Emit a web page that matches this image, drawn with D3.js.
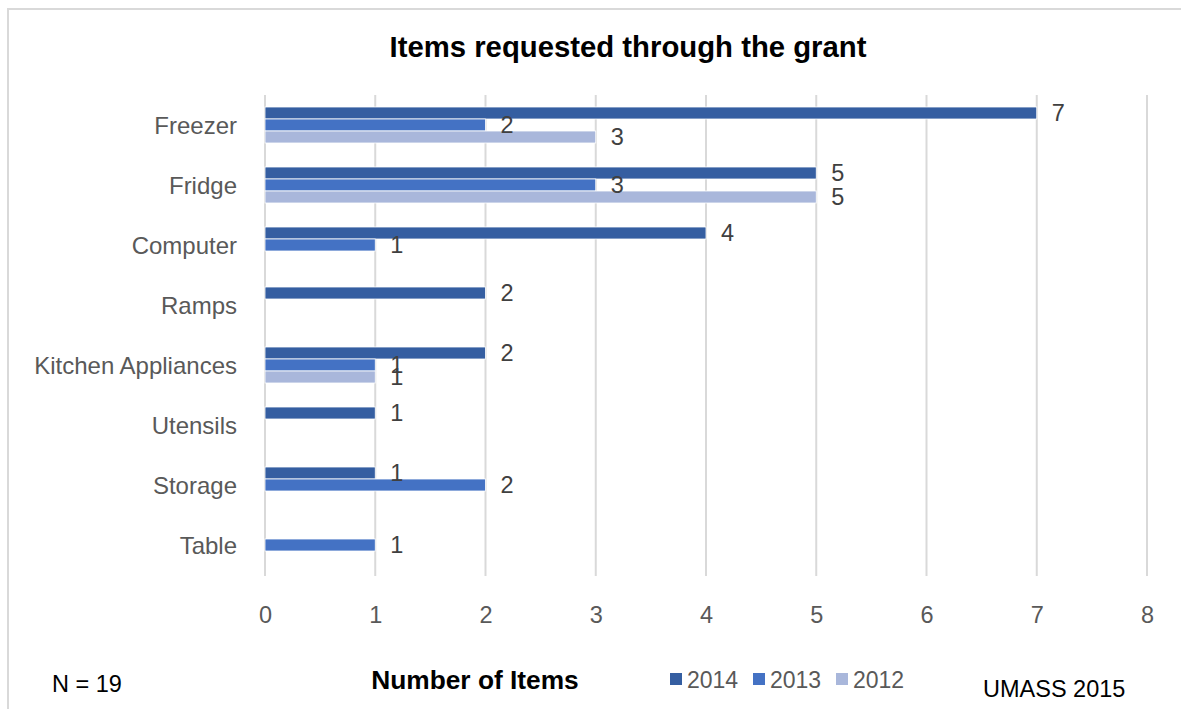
<!DOCTYPE html>
<html>
<head>
<meta charset="utf-8">
<script src="https://cdn.jsdelivr.net/npm/d3@7/dist/d3.min.js"></script>
<style>
  html, body { margin: 0; padding: 0; background: #fff; }
  svg { display: block; font-family: "Liberation Sans", Arial, sans-serif; }
</style>
</head>
<body>
<svg id="chart" width="1181" height="709"></svg>
<script>
// Items requested per category, by grant year (null = none requested)
const categories = ["Freezer", "Fridge", "Computer", "Ramps", "Kitchen Appliances", "Utensils", "Storage", "Table"];
const years = ["2014", "2013", "2012"];
const values2014 = [7, 5, 4, 2, 2, 1, 1, null];
const values2013 = [2, 3, 1, null, 1, null, 2, 1];
const values2012 = [3, 5, null, null, 1, null, null, null];
const xTicks = [0, 1, 2, 3, 4, 5, 6, 7, 8];
const colors = ["#355ea1", "#4472c4", "#a9b7db"];

const seriesValues = [values2014, values2013, values2012];

const svg = d3.select("#chart");

// Outer frame (top and left edges visible)
svg.append("path")
  .attr("d", "M8,709 L8,9 L1181,9")
  .attr("fill", "none")
  .attr("stroke", "#d9d9d9")
  .attr("stroke-width", 2);

const plot = { left: 265, right: 1147, top: 95, bottom: 575 };

const x = d3.scaleLinear().domain([0, 8]).range([plot.left, plot.right]);
const y = d3.scaleBand().domain(categories).range([plot.top, plot.bottom]).paddingInner(0).paddingOuter(0);
const inner = d3.scaleBand().domain(years).range([0, y.bandwidth()]).paddingInner(0).paddingOuter(1);

// Vertical gridlines
svg.append("g")
  .selectAll("line")
  .data(xTicks)
  .join("line")
  .attr("x1", d => x(d)).attr("x2", d => x(d))
  .attr("y1", plot.top).attr("y2", plot.bottom + 1)
  .attr("stroke", "#d9d9d9")
  .attr("stroke-width", 2);

// Bars
const rows = [];
categories.forEach((c, i) => {
  years.forEach((yr, j) => {
    const v = seriesValues[j][i];
    if (v != null) rows.push({ cat: c, year: yr, value: v, color: colors[j] });
  });
});

svg.append("g")
  .selectAll("rect")
  .data(rows)
  .join("rect")
  .attr("x", x(0))
  .attr("y", d => y(d.cat) + inner(d.year))
  .attr("width", d => x(d.value) - x(0))
  .attr("height", inner.bandwidth())
  .attr("fill", d => d.color)
  .attr("stroke", "#ffffff")
  .attr("stroke-width", 0.8);

// Value labels
svg.append("g")
  .selectAll("text")
  .data(rows)
  .join("text")
  .attr("x", d => x(d.value) + 15)
  .attr("y", d => y(d.cat) + inner(d.year) + inner.bandwidth() / 2)
  .attr("dy", "0.36em")
  .attr("font-size", 23.5)
  .attr("fill", "#404040")
  .text(d => d.value);

// Category axis labels
svg.append("g")
  .selectAll("text")
  .data(categories)
  .join("text")
  .attr("x", 237)
  .attr("y", d => y(d) + y.bandwidth() / 2)
  .attr("dy", "0.36em")
  .attr("text-anchor", "end")
  .attr("font-size", 24)
  .attr("fill", "#595959")
  .text(d => d);

// Value axis tick labels
const xAxis = d3.axisBottom(x).tickValues(xTicks).tickSize(0).tickPadding(0).tickFormat(d3.format("d"));
const gx = svg.append("g").attr("transform", `translate(0, ${606})`).call(xAxis);
gx.select(".domain").remove();
gx.selectAll("text")
  .attr("font-family", "Liberation Sans, Arial, sans-serif")
  .attr("font-size", 23.5)
  .attr("fill", "#595959");

// Title
svg.append("text")
  .attr("x", 628).attr("y", 57)
  .attr("text-anchor", "middle")
  .attr("font-size", 29.3)
  .attr("font-weight", "bold")
  .attr("fill", "#000")
  .text("Items requested through the grant");

// Axis title
svg.append("text")
  .attr("x", 475).attr("y", 689)
  .attr("text-anchor", "middle")
  .attr("font-size", 26.3)
  .attr("font-weight", "bold")
  .attr("fill", "#000")
  .text("Number of Items");

// Sample size note
svg.append("text")
  .attr("x", 52).attr("y", 692)
  .attr("font-size", 23.5)
  .attr("fill", "#000")
  .text("N = 19");

// Source note
svg.append("text")
  .attr("x", 983).attr("y", 697)
  .attr("font-size", 23.5)
  .attr("fill", "#000")
  .text("UMASS 2015");

// Legend
const legendX = [670, 753, 836];
const legend = svg.append("g")
  .selectAll("g")
  .data(years)
  .join("g")
  .attr("transform", (d, i) => `translate(${legendX[i]}, 0)`);
legend.append("rect")
  .attr("x", 0).attr("y", 673)
  .attr("width", 12).attr("height", 12)
  .attr("fill", (d, i) => colors[i]);
legend.append("text")
  .attr("x", 17).attr("y", 688)
  .attr("font-size", 23)
  .attr("fill", "#595959")
  .text(d => d);
</script>
</body>
</html>
